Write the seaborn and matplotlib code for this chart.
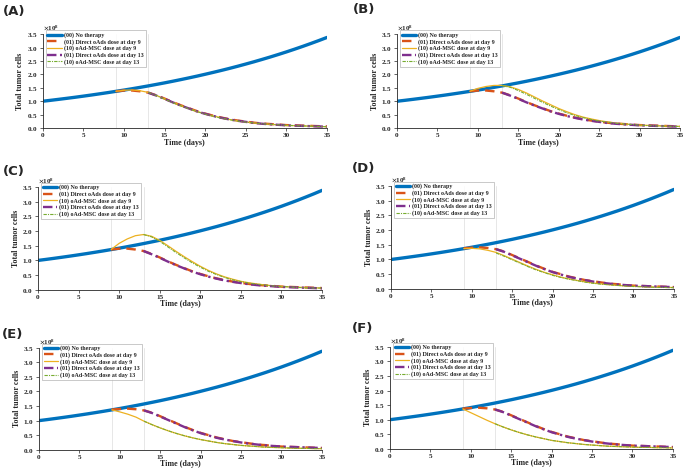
import numpy as np
import matplotlib
matplotlib.use('Agg')
import matplotlib.pyplot as plt
import seaborn as sns

# all tumor values in units of 1e8 cells
days = list(range(0, 36))
no_therapy = [1.00, 1.035, 1.072, 1.110, 1.149, 1.190, 1.232, 1.276, 1.321, 1.368,
              1.416, 1.466, 1.518, 1.572, 1.628, 1.685, 1.745, 1.807, 1.871, 1.937,
              2.006, 2.077, 2.150, 2.226, 2.305, 2.387, 2.471, 2.559, 2.649, 2.743,
              2.840, 2.941, 3.045, 3.153, 3.264, 3.380]

days9 = list(range(9, 36))
days13 = list(range(13, 36))

# direct oAds dose, panels A-C
direct9_abc = [1.37, 1.40, 1.40, 1.37, 1.32, 1.22, 1.10, 0.97, 0.85, 0.74, 0.63, 0.54,
               0.46, 0.39, 0.33, 0.28, 0.24, 0.20, 0.17, 0.15, 0.13, 0.11, 0.10, 0.09,
               0.08, 0.07, 0.06]
direct13_abc = [1.32, 1.21, 1.09, 0.96, 0.84, 0.73, 0.62, 0.53, 0.45, 0.38, 0.32, 0.27,
                0.23, 0.19, 0.16, 0.14, 0.12, 0.10, 0.09, 0.08, 0.07, 0.06, 0.05]
# direct oAds dose, panels D-F
direct9_def = [1.38, 1.40, 1.41, 1.39, 1.35, 1.27, 1.15, 1.03, 0.91, 0.79, 0.68, 0.58,
               0.50, 0.42, 0.36, 0.30, 0.26, 0.22, 0.18, 0.16, 0.13, 0.11, 0.10, 0.09,
               0.08, 0.07, 0.06]
direct13_def = [1.35, 1.26, 1.14, 1.02, 0.90, 0.78, 0.67, 0.57, 0.49, 0.41, 0.35, 0.30,
                0.25, 0.21, 0.18, 0.15, 0.13, 0.11, 0.10, 0.09, 0.08, 0.07, 0.06]

# oAd-MSC dose per panel
msc9_a = [1.37, 1.41, 1.42, 1.39, 1.33, 1.22, 1.09, 0.96, 0.84, 0.73, 0.62, 0.53,
          0.45, 0.38, 0.32, 0.27, 0.23, 0.19, 0.16, 0.14, 0.12, 0.10, 0.09, 0.08,
          0.07, 0.06, 0.05]
msc13_a = [1.33, 1.21, 1.08, 0.95, 0.83, 0.72, 0.61, 0.52, 0.44, 0.37, 0.31, 0.26,
           0.22, 0.19, 0.16, 0.14, 0.12, 0.10, 0.09, 0.08, 0.07, 0.06, 0.05]
msc9_b = [1.37, 1.48, 1.55, 1.59, 1.59, 1.54, 1.44, 1.31, 1.16, 1.01, 0.87, 0.73,
          0.61, 0.50, 0.41, 0.34, 0.28, 0.23, 0.19, 0.16, 0.13, 0.11, 0.10, 0.09,
          0.08, 0.07, 0.06]
msc13_b = [1.58, 1.52, 1.40, 1.26, 1.11, 0.96, 0.82, 0.69, 0.57, 0.47, 0.39, 0.32,
           0.26, 0.22, 0.18, 0.15, 0.13, 0.11, 0.09, 0.08, 0.07, 0.06, 0.06]
msc9_c = [1.37, 1.58, 1.73, 1.84, 1.88, 1.82, 1.68, 1.50, 1.31, 1.13, 0.96, 0.80,
          0.66, 0.54, 0.44, 0.36, 0.29, 0.24, 0.20, 0.16, 0.14, 0.12, 0.10, 0.09,
          0.08, 0.07, 0.06]
msc13_c = [1.88, 1.80, 1.65, 1.46, 1.27, 1.09, 0.92, 0.77, 0.63, 0.52, 0.42, 0.34,
           0.28, 0.23, 0.19, 0.16, 0.13, 0.11, 0.10, 0.08, 0.07, 0.06, 0.06]
msc9_d = [1.37, 1.38, 1.36, 1.31, 1.24, 1.13, 1.01, 0.89, 0.77, 0.66, 0.56, 0.48,
          0.40, 0.34, 0.29, 0.24, 0.20, 0.17, 0.14, 0.12, 0.10, 0.09, 0.08, 0.07,
          0.06, 0.05, 0.05]
msc13_d = [1.22, 1.11, 0.99, 0.87, 0.75, 0.64, 0.55, 0.46, 0.39, 0.33, 0.28, 0.23,
           0.19, 0.16, 0.14, 0.12, 0.10, 0.08, 0.07, 0.06, 0.05, 0.05, 0.04]
msc9_e = [1.37, 1.30, 1.22, 1.12, 0.98, 0.86, 0.75, 0.65, 0.56, 0.48, 0.41, 0.35,
          0.30, 0.25, 0.21, 0.18, 0.15, 0.13, 0.11, 0.09, 0.08, 0.07, 0.06, 0.05,
          0.05, 0.04, 0.04]
msc13_e = [0.98, 0.86, 0.75, 0.65, 0.56, 0.48, 0.41, 0.35, 0.30, 0.25, 0.21, 0.18,
           0.15, 0.13, 0.11, 0.09, 0.08, 0.07, 0.06, 0.05, 0.05, 0.04, 0.04]
msc9_f = [1.37, 1.24, 1.11, 0.98, 0.86, 0.75, 0.65, 0.56, 0.48, 0.41, 0.35, 0.29,
          0.25, 0.21, 0.18, 0.15, 0.13, 0.11, 0.09, 0.08, 0.07, 0.06, 0.05, 0.05,
          0.04, 0.04, 0.03]
msc13_f = [0.86, 0.75, 0.65, 0.56, 0.48, 0.41, 0.35, 0.29, 0.25, 0.21, 0.18, 0.15,
           0.13, 0.11, 0.09, 0.08, 0.07, 0.06, 0.05, 0.05, 0.04, 0.04, 0.03]

panel_names = ['(A)', '(B)', '(C)', '(D)', '(E)', '(F)']
labels = ['(00) No therapy', '(01) Direct oAds dose at day 9', '(10) oAd-MSC dose at day 9',
          '(01) Direct oAds dose at day 13', '(10) oAd-MSC dose at day 13']

panels = [
    (direct9_abc, msc9_a, direct13_abc, msc13_a),
    (direct9_abc, msc9_b, direct13_abc, msc13_b),
    (direct9_abc, msc9_c, direct13_abc, msc13_c),
    (direct9_def, msc9_d, direct13_def, msc13_d),
    (direct9_def, msc9_e, direct13_def, msc13_e),
    (direct9_def, msc9_f, direct13_def, msc13_f),
]

# axes rectangles in figure fractions
rects = [
    [0.0623, 0.727, 0.415, 0.200],
    [0.5796, 0.727, 0.413, 0.200],
    [0.0555, 0.382, 0.4146, 0.2196],
    [0.5708, 0.384, 0.413, 0.2196],
    [0.0569, 0.041, 0.413, 0.2175],
    [0.5693, 0.043, 0.413, 0.2175],
]
label_pos = [(3, 5), (353, 3), (3, 165), (352, 162), (2, 328), (352, 322)]

sns.set_style('ticks')
plt.rcParams['font.family'] = ['Liberation Serif', 'DejaVu Serif']
plt.rcParams['font.weight'] = 'bold'
plt.rcParams['mathtext.fontset'] = 'stix'

colors = ['#0072BD', '#D95319', '#EDB120', '#7E2F8E', '#77AC30']

fig = plt.figure(figsize=(6.85, 4.69), dpi=100)

for i, (d9, m9, d13, m13) in enumerate(panels):
    ax = fig.add_axes(rects[i])
    ax.axvline(9, color='#e3e3e3', lw=0.6, zorder=0)
    ax.axvline(13, color='#e3e3e3', lw=0.6, zorder=0)
    sns.lineplot(x=days, y=np.array(no_therapy) * 1e8, ax=ax, color=colors[0],
                 lw=2.4, label=labels[0])
    sns.lineplot(x=days9, y=np.array(d9) * 1e8, ax=ax, color=colors[1],
                 lw=1.7, linestyle=(0, (4, 2.5)), label=labels[1])
    sns.lineplot(x=days9, y=np.array(m9) * 1e8, ax=ax, color=colors[2],
                 lw=0.9, label=labels[2])
    sns.lineplot(x=days13, y=np.array(d13) * 1e8, ax=ax, color=colors[3],
                 lw=1.7, linestyle=(0, (4, 1.5, 1, 1.5)), label=labels[3])
    sns.lineplot(x=days13, y=np.array(m13) * 1e8, ax=ax, color=colors[4],
                 lw=0.8, linestyle=(0, (3, 1, 1, 1)), label=labels[4])

    ax.set_xlim(0, 35)
    ax.set_ylim(0, 3.5e8)
    ax.set_xticks(range(0, 36, 5))
    ax.set_yticks(np.arange(0, 3.51e8, 0.5e8))
    ax.ticklabel_format(style='sci', axis='y', scilimits=(8, 8), useMathText=True)
    ax.yaxis.get_offset_text().set_fontsize(5)
    ax.tick_params(labelsize=5.2, length=2, width=0.5, pad=1.5)
    for s in ['top', 'right']:
        ax.spines[s].set_visible(False)
    for s in ['left', 'bottom']:
        ax.spines[s].set_linewidth(0.6)
    ax.set_xlabel('Time (days)', fontsize=5.8, fontweight='bold', labelpad=0.5)
    ax.set_ylabel('Total tumor cells', fontsize=5.8, fontweight='bold', labelpad=2)
    leg = ax.legend(loc='upper left', bbox_to_anchor=(0.01, 1.04), fontsize=4.3,
                    frameon=True, fancybox=False, borderpad=0.3, labelspacing=0.15,
                    handlelength=2.4, handletextpad=0.4, borderaxespad=0)
    leg.get_frame().set_edgecolor('#a0a0a0')
    leg.get_frame().set_linewidth(0.5)

    x, y = label_pos[i]
    fig.text(x / 685, 1 - y / 469, panel_names[i], fontsize=9.5, fontweight='bold',
             family='DejaVu Sans', ha='left', va='top')

fig.savefig('out.png', dpi=100)
